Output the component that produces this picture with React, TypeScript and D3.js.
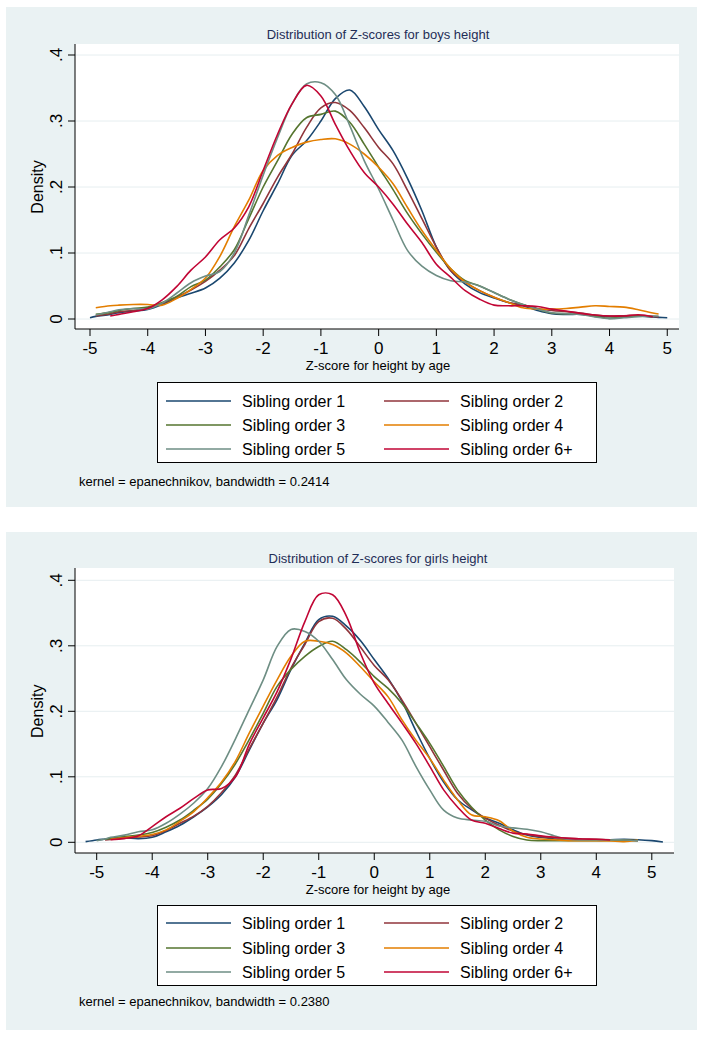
import * as d3 from "d3";

const seriesNames = [
  "Sibling order 1",
  "Sibling order 2",
  "Sibling order 3",
  "Sibling order 4",
  "Sibling order 5",
  "Sibling order 6+",
];
const seriesColors = ["#1a476f", "#90353b", "#55752f", "#e37e00", "#6e8e84", "#c10534"];

const xTicks = [-5, -4, -3, -2, -1, 0, 1, 2, 3, 4, 5];
const yTicks = [0, 0.1, 0.2, 0.3, 0.4];
const yTickLabels = ["0", ".1", ".2", ".3", ".4"];

// boys: z-score grid and density per sibling order
const boysZ = [-5, -4.9, -4.65, -4.5, -4.25, -4, -3.75, -3.5, -3.25, -3, -2.75, -2.5, -2.25, -2, -1.75, -1.5, -1.25, -1, -0.75, -0.5, -0.25, 0, 0.25, 0.5, 0.75, 1, 1.25, 1.5, 1.75, 2, 2.25, 2.5, 2.75, 3, 3.25, 3.5, 3.75, 4, 4.25, 4.5, 4.75, 4.85, 5];
const boys1 = [0.002, 0.004, 0.007, 0.0096, 0.012, 0.0146, 0.022, 0.032, 0.039, 0.047, 0.062, 0.085, 0.119, 0.164, 0.205, 0.248, 0.27, 0.3, 0.334, 0.347, 0.322, 0.287, 0.255, 0.213, 0.164, 0.109, 0.073, 0.053, 0.04, 0.032, 0.025, 0.02, 0.013, 0.008, 0.007, 0.007, 0.005, 0.0035, 0.004, 0.0045, 0.003, 0.0025, 0.002];
const boys2 = [null, 0.0045, 0.008, 0.011, 0.013, 0.016, 0.024, 0.033, 0.044, 0.057, 0.074, 0.096, 0.137, 0.175, 0.215, 0.25, 0.29, 0.32, 0.328, 0.316, 0.29, 0.26, 0.235, 0.195, 0.152, 0.109, 0.073, 0.056, 0.043, 0.033, 0.025, 0.021, 0.016, 0.013, 0.011, 0.009, 0.006, 0.0045, 0.005, 0.0055, 0.004, 0.003, null];
const boys3 = [null, 0.007, 0.01, 0.013, 0.016, 0.018, 0.025, 0.034, 0.049, 0.059, 0.079, 0.105, 0.152, 0.2, 0.24, 0.28, 0.305, 0.31, 0.315, 0.298, 0.265, 0.23, 0.196, 0.16, 0.129, 0.101, 0.076, 0.058, 0.05, 0.04, 0.03, 0.022, 0.015, 0.009, 0.008, 0.0075, 0.004, 0.001, 0.003, 0.0045, 0.0035, null, null];
const boys4 = [null, 0.017, 0.02, 0.021, 0.022, 0.022, 0.021, 0.031, 0.045, 0.062, 0.095, 0.14, 0.18, 0.225, 0.248, 0.26, 0.268, 0.272, 0.273, 0.265, 0.25, 0.23, 0.205, 0.169, 0.134, 0.104, 0.076, 0.056, 0.043, 0.033, 0.025, 0.017, 0.015, 0.015, 0.016, 0.018, 0.02, 0.019, 0.018, 0.014, 0.009, 0.0075, null];
const boys5 = [null, 0.006, 0.011, 0.014, 0.016, 0.015, 0.024, 0.039, 0.055, 0.065, 0.072, 0.1, 0.157, 0.218, 0.275, 0.326, 0.356, 0.358, 0.34, 0.293, 0.24, 0.197, 0.15, 0.104, 0.08, 0.066, 0.058, 0.056, 0.05, 0.04, 0.03, 0.022, 0.015, 0.0095, 0.008, 0.007, 0.003, 0.0005, 0.002, 0.0035, 0.0045, 0.0045, null];
const boys6 = [null, null, 0.0045, 0.007, 0.011, 0.016, 0.029, 0.049, 0.074, 0.094, 0.12, 0.138, 0.17, 0.225, 0.28, 0.326, 0.354, 0.338, 0.295, 0.255, 0.222, 0.2, 0.174, 0.144, 0.116, 0.083, 0.063, 0.043, 0.03, 0.021, 0.02, 0.02, 0.019, 0.015, 0.012, 0.0085, 0.006, 0.0045, 0.0045, 0.0065, 0.0035, null, null];

// girls
const girlsZ = [-5.2, -5, -4.85, -4.75, -4.5, -4.25, -4, -3.75, -3.5, -3.25, -3, -2.75, -2.5, -2.25, -2, -1.75, -1.5, -1.25, -1, -0.75, -0.5, -0.25, 0, 0.25, 0.5, 0.75, 1, 1.25, 1.5, 1.75, 2, 2.25, 2.5, 2.75, 3, 3.25, 3.5, 3.75, 4, 4.25, 4.5, 4.75, 5, 5.2];
const girls1 = [0.001, 0.0036, 0.005, 0.006, 0.007, 0.0056, 0.0076, 0.016, 0.026, 0.039, 0.054, 0.073, 0.1, 0.141, 0.182, 0.218, 0.264, 0.304, 0.34, 0.345, 0.33, 0.308, 0.279, 0.25, 0.215, 0.17, 0.128, 0.092, 0.065, 0.05, 0.037, 0.029, 0.019, 0.011, 0.0076, 0.005, 0.0036, 0.0036, 0.0036, 0.004, 0.0046, 0.004, 0.0025, 0.0005];
const girls2 = [null, null, 0.0036, 0.0045, 0.006, 0.008, 0.01, 0.018, 0.029, 0.04, 0.055, 0.076, 0.103, 0.143, 0.182, 0.222, 0.266, 0.302, 0.337, 0.342, 0.325, 0.298, 0.27, 0.248, 0.217, 0.182, 0.146, 0.11, 0.075, 0.052, 0.037, 0.026, 0.017, 0.012, 0.0087, 0.007, 0.006, 0.005, 0.0046, 0.004, 0.0036, 0.0025, null, null];
const girls3 = [null, null, 0.0046, 0.006, 0.0087, 0.011, 0.015, 0.023, 0.034, 0.049, 0.066, 0.09, 0.12, 0.157, 0.197, 0.238, 0.264, 0.284, 0.299, 0.307, 0.294, 0.275, 0.253, 0.235, 0.212, 0.182, 0.151, 0.116, 0.08, 0.054, 0.034, 0.019, 0.009, 0.0036, 0.0025, 0.0025, 0.0025, 0.0025, 0.0025, 0.003, 0.0036, 0.0025, null, null];
const girls4 = [null, null, null, 0.0046, 0.007, 0.009, 0.012, 0.019, 0.032, 0.047, 0.068, 0.092, 0.124, 0.167, 0.208, 0.248, 0.284, 0.307, 0.307, 0.302, 0.289, 0.268, 0.245, 0.222, 0.187, 0.156, 0.128, 0.095, 0.065, 0.042, 0.039, 0.033, 0.017, 0.0076, 0.005, 0.004, 0.0025, 0.0025, 0.0025, 0.002, 0.001, 0.0036, null, null];
const girls5 = [null, 0.0025, 0.005, 0.0076, 0.011, 0.016, 0.019, 0.029, 0.043, 0.06, 0.082, 0.116, 0.158, 0.203, 0.248, 0.299, 0.325, 0.322, 0.307, 0.279, 0.248, 0.226, 0.208, 0.183, 0.156, 0.116, 0.08, 0.049, 0.037, 0.034, 0.032, 0.025, 0.022, 0.02, 0.016, 0.0097, 0.0046, 0.0036, 0.0036, 0.0036, 0.0036, 0.0025, null, null];
const girls6 = [null, null, null, 0.004, 0.006, 0.01, 0.024, 0.039, 0.052, 0.067, 0.08, 0.082, 0.1, 0.15, 0.19, 0.23, 0.28, 0.337, 0.378, 0.378, 0.345, 0.289, 0.243, 0.212, 0.182, 0.151, 0.116, 0.08, 0.054, 0.034, 0.029, 0.021, 0.014, 0.0127, 0.01, 0.0076, 0.006, 0.005, 0.0046, 0.0036, null, null, null, null];

const font = "'Liberation Sans', Arial, Helvetica, sans-serif";

type Cfg = {
  bgY: number;
  bgH: number;
  titleY: number;
  plotTop: number;
  axisY: number;
  plotRight: number;
  xRange: [number, number];
  yRange: [number, number];
  legendY: number;
  rows: number[];
  noteY: number;
};

const boysCfg: Cfg = {
  bgY: 7,
  bgH: 500,
  titleY: 39,
  plotTop: 44,
  axisY: 329,
  plotRight: 679,
  xRange: [90, 667.25],
  yRange: [319, 55],
  legendY: 382,
  rows: [401, 425, 449],
  noteY: 485.5,
};

const girlsCfg: Cfg = {
  bgY: 532,
  bgH: 498,
  titleY: 563,
  plotTop: 568,
  axisY: 853,
  plotRight: 674,
  xRange: [96.7, 651.8],
  yRange: [842.3, 580.3],
  legendY: 905,
  rows: [923, 948, 972],
  noteY: 1006,
};

function DensityPanel({
  cfg,
  z,
  series,
  title,
  note,
}: {
  cfg: Cfg;
  z: number[];
  series: (number | null)[][];
  title: string;
  note: string;
}) {
  const x = d3.scaleLinear().domain([-5, 5]).range(cfg.xRange);
  const y = d3.scaleLinear().domain([0, 0.4]).range(cfg.yRange);
  const line = d3
    .line<[number, number | null]>()
    .defined((d) => d[1] !== null)
    .x((d) => x(d[0]))
    .y((d) => y(d[1] as number))
    .curve(d3.curveCatmullRom.alpha(0.5));

  const left = 75;
  const yMid = (y(0) + y(0.4)) / 2;

  return (
    <g>
      <rect x={6} y={cfg.bgY} width={691} height={cfg.bgH} fill="#eaf2f3" />
      <text
        x={378}
        y={cfg.titleY}
        textAnchor="middle"
        fontSize={13}
        fill="#1f2d56"
        fontFamily={font}
      >
        {title}
      </text>
      <rect
        x={left}
        y={cfg.plotTop}
        width={cfg.plotRight - left}
        height={cfg.axisY - cfg.plotTop}
        fill="#ffffff"
      />
      {yTicks.map((t) => (
        <line
          key={"g" + t}
          x1={left}
          x2={cfg.plotRight}
          y1={y(t)}
          y2={y(t)}
          stroke="#e6eef0"
          strokeWidth={1}
        />
      ))}
      {series.map((vals, i) => (
        <path
          key={"s" + i}
          d={line(z.map((zz, j) => [zz, vals[j]] as [number, number | null])) || ""}
          fill="none"
          stroke={seriesColors[i]}
          strokeWidth={1.6}
        />
      ))}
      {/* axes */}
      <line x1={left} x2={left} y1={cfg.plotTop} y2={cfg.axisY} stroke="#000" strokeWidth={1} />
      <line x1={left} x2={cfg.plotRight} y1={cfg.axisY} y2={cfg.axisY} stroke="#000" strokeWidth={1} />
      {yTicks.map((t, i) => (
        <g key={"yt" + t}>
          <line x1={left - 7} x2={left} y1={y(t)} y2={y(t)} stroke="#000" />
          <text
            transform={`translate(62,${y(t)}) rotate(-90)`}
            textAnchor="middle"
            fontSize={17}
            fontFamily={font}
            fill="#000"
          >
            {yTickLabels[i]}
          </text>
        </g>
      ))}
      {xTicks.map((t) => (
        <g key={"xt" + t}>
          <line x1={x(t)} x2={x(t)} y1={cfg.axisY} y2={cfg.axisY + 7} stroke="#000" />
          <text
            x={x(t)}
            y={cfg.axisY + 25}
            textAnchor="middle"
            fontSize={17}
            fontFamily={font}
            fill="#000"
          >
            {t}
          </text>
        </g>
      ))}
      <text
        transform={`translate(43,${yMid}) rotate(-90)`}
        textAnchor="middle"
        fontSize={16}
        fontFamily={font}
        fill="#000"
      >
        Density
      </text>
      <text
        x={378}
        y={cfg.axisY + 41}
        textAnchor="middle"
        fontSize={13}
        fontFamily={font}
        fill="#000"
      >
        Z-score for height by age
      </text>
      {/* legend */}
      <rect
        x={157.5}
        y={cfg.legendY + 0.5}
        width={439}
        height={80}
        fill="#ffffff"
        stroke="#000"
        strokeWidth={1}
      />
      {seriesNames.map((name, i) => {
        const col = i % 2;
        const row = Math.floor(i / 2);
        const ly = cfg.rows[row];
        const lx = col === 0 ? 166 : 384;
        return (
          <g key={"l" + i}>
            <line x1={lx} x2={lx + 65} y1={ly} y2={ly} stroke={seriesColors[i]} strokeWidth={1.6} />
            <text x={lx + 76} y={ly + 5.8} fontSize={16} fontFamily={font} fill="#000">
              {name}
            </text>
          </g>
        );
      })}
      <text x={79} y={cfg.noteY} fontSize={13} fontFamily={font} fill="#000">
        {note}
      </text>
    </g>
  );
}

export default function App() {
  return (
    <div>
      <style>{`body{margin:0;background:#fff}`}</style>
      <svg width={704} height={1038} style={{ display: "block" }}>
        <rect width={704} height={1038} fill="#ffffff" />
        <DensityPanel
          cfg={boysCfg}
          z={boysZ}
          series={[boys1, boys2, boys3, boys4, boys5, boys6]}
          title="Distribution of Z-scores for boys height"
          note="kernel = epanechnikov, bandwidth = 0.2414"
        />
        <DensityPanel
          cfg={girlsCfg}
          z={girlsZ}
          series={[girls1, girls2, girls3, girls4, girls5, girls6]}
          title="Distribution of Z-scores for girls height"
          note="kernel = epanechnikov, bandwidth = 0.2380"
        />
      </svg>
    </div>
  );
}
